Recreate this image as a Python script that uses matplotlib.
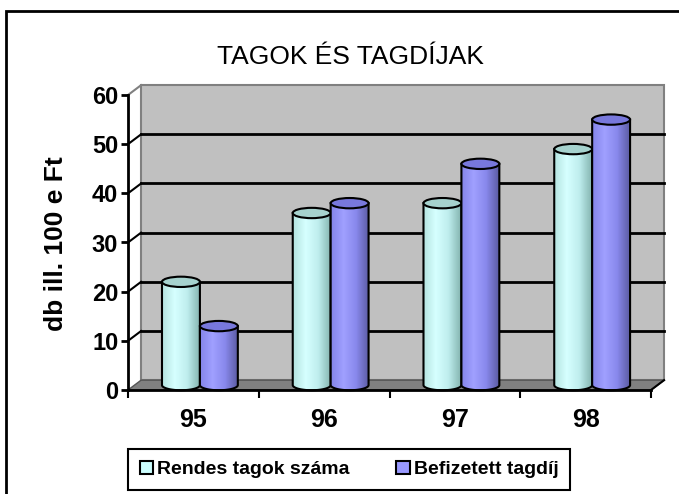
import numpy as np
import matplotlib
matplotlib.use("Agg")
import matplotlib.pyplot as plt
from matplotlib.patches import Polygon, Ellipse, Rectangle
from matplotlib.colors import LinearSegmentedColormap

# chart data
years = ["95", "96", "97", "98"]
rendes = [21, 35, 37, 48]
befizetett = [12, 37, 45, 54]
series_names = ["Rendes tagok száma", "Befizetett tagdíj"]
yticks = [0, 10, 20, 30, 40, 50, 60]

plt.rcParams['font.family'] = ['Liberation Sans', 'DejaVu Sans']

W, H = 679, 494
fig = plt.figure(figsize=(W / 100, H / 100), dpi=100)
ax = fig.add_axes([128 / W, 104 / H, 523 / W, 295 / H])
ax.patch.set_visible(False)
ncat = len(years)
ymax = yticks[-1]

dx, dy = 0.1, 2.0   # depth offset of the fake 3d box (data units)

# back wall
ax.add_patch(Polygon([(dx, dy), (ncat + dx, dy), (ncat + dx, ymax + dy), (dx, ymax + dy)],
                     closed=True, fc='#c0c0c0', ec='#808080', lw=1.5, clip_on=False, zorder=0))
# floor
ax.add_patch(Polygon([(0, 0), (ncat, 0), (ncat + dx, dy), (dx, dy)],
                     closed=True, fc='#808080', ec='#555555', lw=1, clip_on=False, zorder=0.5))

# gridlines on the wall plus the little diagonals on the left side
for v in yticks[1:-1]:
    ax.plot([dx, ncat + dx], [v + dy, v + dy], color='k', lw=2, clip_on=False, zorder=1)
    ax.plot([0, dx], [v, v + dy], color='k', lw=1.5, clip_on=False, zorder=1)
ax.plot([0, dx], [ymax, ymax + dy], color='#808080', lw=1.5, clip_on=False, zorder=1)
ax.plot([ncat, ncat + dx], [0, dy], color='k', lw=1.5, clip_on=False, zorder=1)

# cylinders
w = 0.29
eh = 2.1
base = dy / 2
styles = [
    (['#b4e4e0', '#d6ffff', '#bfeeee', '#86b6b2'], '#a6d2ce'),
    (['#8484ea', '#a0a0ff', '#8888ec', '#5c5ca4'], '#7878dc'),
]
t = np.linspace(np.pi, 2 * np.pi, 40)

for s, values in enumerate([rendes, befizetett]):
    cmap = LinearSegmentedColormap.from_list('c%d' % s, styles[s][0])
    grad = np.linspace(0, 1, 64).reshape(1, -1)
    for i, v in enumerate(values):
        cx = i + 0.5 + dx / 2
        x0 = cx - w if s == 0 else cx
        xc = x0 + w / 2
        pts = [(x0, base + v), (x0, base)]
        pts += list(zip(xc + w / 2 * np.cos(t), base + eh / 2 * np.sin(t)))
        pts += [(x0 + w, base + v)]
        body = Polygon(pts, closed=True, fc='none', ec='k', lw=1.5, zorder=3 + s, clip_on=False)
        ax.add_patch(body)
        im = ax.imshow(grad, extent=(x0, x0 + w, base - eh / 2, base + v), aspect='auto',
                       cmap=cmap, zorder=2.5 + s, interpolation='bilinear')
        im.set_clip_path(body)
        ax.add_patch(Ellipse((xc, base + v), w, eh, fc=styles[s][1], ec='k', lw=1.5,
                             zorder=3.2 + s, clip_on=False))

ax.set_xlim(0, ncat)
ax.set_ylim(0, ymax)

# axes look
for side in ['top', 'right']:
    ax.spines[side].set_visible(False)
for side in ['left', 'bottom']:
    ax.spines[side].set_linewidth(2)
    ax.spines[side].set_zorder(6)

ax.set_yticks(yticks)
ax.set_yticklabels([str(v) for v in yticks], fontsize=17, fontweight='bold')
ax.tick_params(axis='y', length=5, width=2, pad=2)
ax.set_xticks(range(ncat + 1))
ax.set_xticklabels([])
ax.tick_params(axis='x', which='major', length=6, width=1.5)
ax.set_xticks([i + 0.5 for i in range(ncat)], minor=True)
ax.set_xticklabels(years, minor=True, fontsize=18, fontweight='bold')
ax.tick_params(axis='x', which='minor', length=0, pad=13)

fig.text(350 / W, 1 - 57 / H, "TAGOK ÉS TAGDÍJAK", fontsize=19, ha='center', va='center')
fig.text(56 / W, 1 - 244 / H, "db ill. 100 e Ft", fontsize=19, fontweight='bold',
         rotation=90, ha='center', va='center')

# outer chart frame (only top and left edge visible)
fig.add_artist(Rectangle((6 / W, -0.1), 1.2, 1.1 - 11 / H, transform=fig.transFigure,
                         fill=False, ec='k', lw=2))

handles = [Rectangle((0, 0), 1, 1, fc='#ccffff', ec='k', lw=1.5),
           Rectangle((0, 0), 1, 1, fc='#9999ff', ec='k', lw=1.5)]
leg = fig.legend(handles, series_names, loc='lower left', bbox_to_anchor=(128 / W, 4 / H),
                 ncol=2, fancybox=False, edgecolor='k', framealpha=1,
                 prop={'weight': 'bold', 'size': 14}, handlelength=0.7, handleheight=0.7,
                 handletextpad=0.2, columnspacing=2.4, borderpad=0.6, borderaxespad=0)
leg.get_frame().set_linewidth(1.5)

fig.savefig("out.png", dpi=100)
